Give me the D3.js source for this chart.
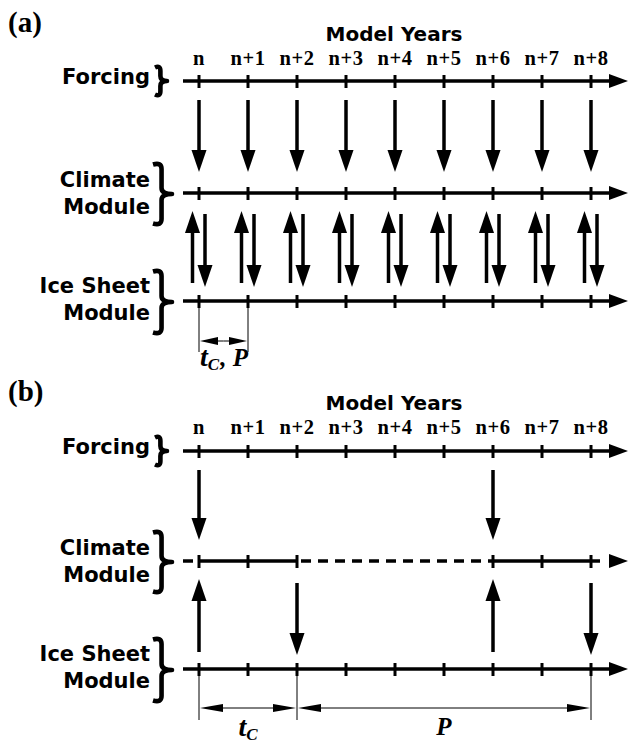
<!DOCTYPE html>
<html>
<head>
<meta charset="utf-8">
<script src="https://d3js.org/d3.v7.min.js"></script>
<style>
  body { margin: 0; background: #fff; }
  svg { display: block; }
</style>
</head>
<body>
<script>
// model years along the time axis
const years = ["n", "n+1", "n+2", "n+3", "n+4", "n+5", "n+6", "n+7", "n+8"];
// the three rows of the diagram
const rows = ["Forcing", "Climate", "Ice Sheet"];
const rowLabels = [["Forcing"], ["Climate", "Module"], ["Ice Sheet", "Module"]];
const panelNames = ["(a)", "(b)"];

// (a) synchronous coupling: every year
const aForcingToClimate = [0, 1, 2, 3, 4, 5, 6, 7, 8];
const aIceToClimate = [0, 1, 2, 3, 4, 5, 6, 7, 8];
const aClimateToIce = [0, 1, 2, 3, 4, 5, 6, 7, 8];
const aClimateActive = [[0, 8]];
const aSpans = [{from: 0, to: 1, main: "t", sub: "C", tail: ", P"}];

// (b) asynchronous coupling
const bForcingToClimate = [0, 6];
const bIceToClimate = [0, 6];
const bClimateToIce = [2, 8];
const bClimateActive = [[0, 2], [6, 8]];
const bSpans = [{from: 0, to: 2, main: "t", sub: "C", tail: ""},
                {from: 2, to: 8, main: "P", sub: "", tail: ""}];

const width = 629;
const height = 747;

const svg = d3.select("body")
  .append("svg")
  .attr("width", width)
  .attr("height", height);

const x = d3.scaleLinear()
  .domain([0, years.length - 1])
  .range([199, 591]);

const axisStart = 183;
const axisEnd = 628;
const headLen = 19;

const panels = [
  {name: panelNames[0], top: 0, y: d3.scaleOrdinal().domain(rows).range([81, 193, 301]),
   f2c: aForcingToClimate, i2c: aIceToClimate, c2i: aClimateToIce,
   active: aClimateActive, spans: aSpans, paired: true},
  {name: panelNames[1], top: 369, y: d3.scaleOrdinal().domain(rows).range([451, 561, 669]),
   f2c: bForcingToClimate, i2c: bIceToClimate, c2i: bClimateToIce,
   active: bClimateActive, spans: bSpans, paired: false}
];

function arrow(g, x1, y1, x2, y2, opts) {
  const o = Object.assign({w: 3.5, len: 22, half: 7.5}, opts || {});
  const dx = x2 - x1, dy = y2 - y1;
  const L = Math.hypot(dx, dy);
  const ux = dx / L, uy = dy / L;
  const bx = x2 - ux * o.len, by = y2 - uy * o.len;
  g.append("line")
    .attr("x1", x1).attr("y1", y1)
    .attr("x2", bx + ux * 1).attr("y2", by + uy * 1)
    .attr("stroke", "#000").attr("stroke-width", o.w);
  g.append("path")
    .attr("d", `M${x2},${y2}L${bx - uy * o.half},${by + ux * o.half}L${bx + uy * o.half},${by - ux * o.half}Z`)
    .attr("fill", "#000");
}

function brace(g, x0, yc, w, h) {
  const y0 = yc - h / 2, y1 = yc + h / 2;
  const m = x0 + w * 0.45;
  const r = Math.min(6, h / 6);
  const d = `M${x0},${y0 + 1.5}Q${m},${y0 - 1} ${m},${y0 + r}` +
    `L${m},${yc - r}Q${m},${yc} ${x0 + w},${yc}` +
    `Q${m},${yc} ${m},${yc + r}L${m},${y1 - r}Q${m},${y1 + 1} ${x0},${y1 - 1.5}`;
  g.append("path")
    .attr("d", d)
    .attr("fill", "none")
    .attr("stroke", "#000")
    .attr("stroke-width", 4.6)
    .attr("stroke-linejoin", "round");
}

const braceSize = {"Forcing": [155, 12, 30], "Climate": [153, 19, 62], "Ice Sheet": [153, 19, 64]};
const labelDy = {"Forcing": [3], "Climate": [-6, 21], "Ice Sheet": [-8, 19]};

panels.forEach(p => {
  const g = svg.append("g");

  g.append("text")
    .attr("x", 8).attr("y", p.top + 32)
    .attr("font-family", "Liberation Serif")
    .attr("font-weight", "bold")
    .attr("font-size", 29)
    .text(p.name);

  g.append("text")
    .attr("x", 394).attr("y", p.top + 41)
    .attr("text-anchor", "middle")
    .attr("font-family", "DejaVu Sans")
    .attr("font-weight", "bold")
    .attr("font-size", 20)
    .text("Model Years");

  g.selectAll(".yl")
    .data(years)
    .join("text")
    .attr("x", (d, i) => x(i))
    .attr("y", p.top + 65)
    .attr("text-anchor", "middle")
    .attr("font-family", "Liberation Serif")
    .attr("font-weight", "bold")
    .attr("font-size", 20.5)
    .attr("letter-spacing", 0.6)
    .text(d => d);

  rows.forEach((r, ri) => {
    const yy = p.y(r);
    // row label
    rowLabels[ri].forEach((t, li) => {
      g.append("text")
        .attr("x", 150).attr("y", yy + labelDy[r][li])
        .attr("text-anchor", "end")
        .attr("font-family", "DejaVu Sans")
        .attr("font-weight", "bold")
        .attr("font-size", 21)
        .text(t);
    });
    const b = braceSize[r];
    brace(g, b[0], yy + (r === "Forcing" ? 0 : 1), b[1], b[2]);

    // time axis line
    const lineG = g.append("g");
    const partial = r === "Climate" && !p.paired;
    if (partial) {
      const segs = [];
      let last = null;
      p.active.forEach(a => {
        segs.push({x1: last === null ? axisStart : x(last), x2: x(a[0]), dash: true, first: last === null});
        segs.push({x1: x(a[0]), x2: x(a[1]), dash: false});
        last = a[1];
      });
      segs.push({x1: x(last), x2: axisEnd - headLen - 1, dash: true, end: true});
      segs.forEach(s => {
        lineG.append("line")
          .attr("x1", s.x1).attr("x2", s.x2)
          .attr("y1", yy).attr("y2", yy)
          .attr("stroke", "#000")
          .attr("stroke-width", 3.5)
          .attr("stroke-dasharray", s.dash ? (s.end ? "9,8" : "10,7") : null)
          .attr("stroke-dashoffset", s.dash && !s.first && !s.end ? 13 : 0);
      });
      lineG.append("path")
        .attr("d", `M${axisEnd},${yy}L${axisEnd - headLen},${yy - 7}L${axisEnd - headLen},${yy + 7}Z`)
        .attr("fill", "#000");
    } else {
      arrow(lineG, axisStart, yy, axisEnd, yy, {len: headLen, half: 7});
    }
    // ticks (only on the solid parts of a partial line)
    const tickIdx = d3.range(years.length)
      .filter(i => !partial || p.active.some(a => i >= a[0] && i <= a[1]));
    g.selectAll(null)
      .data(tickIdx)
      .join("line")
      .attr("x1", i => x(i)).attr("x2", i => x(i))
      .attr("y1", yy - 6).attr("y2", yy + 7)
      .attr("stroke", "#000")
      .attr("stroke-width", 3);
  });

  const yF = p.y("Forcing"), yC = p.y("Climate"), yI = p.y("Ice Sheet");

  // forcing -> climate
  p.f2c.forEach(i => arrow(g, x(i), yF + 19, x(i), yC - 21));
  // ice sheet -> climate
  const off = p.paired ? 6.5 : 0;
  p.i2c.forEach(i => arrow(g, x(i) - off, yI - (p.paired ? 18 : 17), x(i) - off, yC + 18));
  // climate -> ice sheet
  const off2 = p.paired ? 6 : 0;
  p.c2i.forEach(i => arrow(g, x(i) + off2, yC + (p.paired ? 21 : 22), x(i) + off2, yI - 14));

  // dimension spans below ice sheet axis
  const yDim = yI + (p.paired ? 40 : 39);
  const extBottom = yI + 51;
  const ends = new Set();
  p.spans.forEach(s => { ends.add(s.from); ends.add(s.to); });
  ends.forEach(i => {
    g.append("line")
      .attr("x1", x(i)).attr("x2", x(i))
      .attr("y1", yI).attr("y2", extBottom)
      .attr("stroke", "#000").attr("stroke-width", 1);
  });
  p.spans.forEach(s => {
    const x1 = x(s.from) + 1, x2 = x(s.to) - 1;
    const len = p.paired ? 18 : 23;
    arrow(g, (x1 + x2) / 2, yDim, x1, yDim, {w: 1, len: len, half: 4});
    arrow(g, (x1 + x2) / 2, yDim, x2, yDim, {w: 1, len: len, half: 4});

    const t = g.append("text")
      .attr("font-family", "Liberation Serif")
      .attr("font-weight", "bold")
      .attr("font-style", "italic")
      .attr("font-size", 25);
    if (p.paired) {
      t.attr("x", x(s.from) + 1).attr("y", yI + 65);
    } else {
      t.attr("x", (x(s.from) + x(s.to)) / 2).attr("y", yI + (s.sub ? 67 : 66))
        .attr("text-anchor", "middle");
    }
    t.append("tspan").attr("font-size", s.main === "t" ? 28 : 25).text(s.main);
    if (s.sub) t.append("tspan").attr("font-size", 17).attr("dy", 4).text(s.sub);
    if (s.tail) t.append("tspan").attr("dy", -4).attr("dx", 1).text(s.tail);
  });
});
</script>
</body>
</html>
